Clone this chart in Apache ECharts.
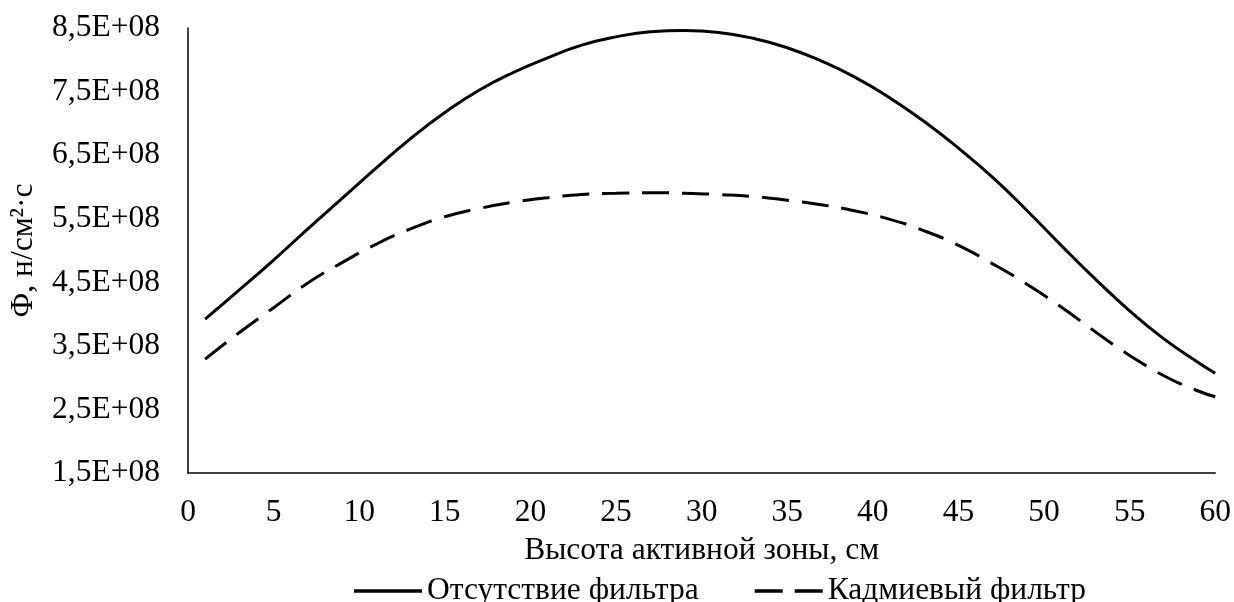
<!DOCTYPE html>
<html>
<head>
<meta charset="utf-8">
<script src="https://cdn.jsdelivr.net/npm/echarts@6/dist/echarts.min.js"></script>
<style>
html,body{margin:0;padding:0;background:#fff;}
#chart{width:1234px;height:602px;}
</style>
</head>
<body>
<div id="chart"></div>
<script>
// Height of active zone, cm
const heights = [1, 3, 5, 7, 9, 11, 13, 15, 17, 19, 21, 23, 25, 27, 29, 31, 33, 35, 37, 39, 41, 43, 45, 47, 49, 51, 53, 55, 57, 59, 60];
// Flux, n/cm2*s
const noFilter = [3.92e8, 4.38e8, 4.85e8, 5.34e8, 5.82e8, 6.30e8, 6.76e8, 7.17e8, 7.52e8, 7.80e8, 8.03e8, 8.23e8, 8.36e8, 8.44e8, 8.46e8, 8.43e8, 8.34e8, 8.19e8, 7.98e8, 7.72e8, 7.40e8, 7.03e8, 6.61e8, 6.15e8, 5.63e8, 5.08e8, 4.55e8, 4.05e8, 3.61e8, 3.24e8, 3.07e8];
const cadmiumFilter = [3.29e8, 3.71e8, 4.10e8, 4.49e8, 4.81e8, 5.10e8, 5.34e8, 5.53e8, 5.66e8, 5.76e8, 5.83e8, 5.88e8, 5.90e8, 5.91e8, 5.90e8, 5.88e8, 5.85e8, 5.79e8, 5.72e8, 5.62e8, 5.49e8, 5.31e8, 5.08e8, 4.79e8, 4.47e8, 4.11e8, 3.72e8, 3.35e8, 3.03e8, 2.79e8, 2.70e8];
const seriesNames = ['Отсутствие фильтра', 'Кадмиевый фильтр'];
const xTitle = 'Высота активной зоны, см';
const yTitle = 'Ф, н/см²·с';
const yTickValues = [1.5e8, 2.5e8, 3.5e8, 4.5e8, 5.5e8, 6.5e8, 7.5e8, 8.5e8];

const FONT = 'Liberation Serif';
const FS = 31.5;
const chart = echarts.init(document.getElementById('chart'));
function fmtY(v) {
  for (const t of yTickValues) {
    if (Math.abs(v - t) < 1) return (t / 1e8).toFixed(1).replace('.', ',') + 'E+08';
  }
  return '';
}
chart.setOption({
  animation: false,
  backgroundColor: '#fff',
  grid: {left: 186, right: 18, top: 28, bottom: 129},
  legend: {
    left: 349, top: 570,
    itemWidth: 68, itemHeight: 3.5, itemGap: 56,
    textStyle: {fontFamily: FONT, fontSize: FS, color: '#000'},
    data: [
      {name: seriesNames[0], icon: 'path://M0,0H68V3.5H0Z'},
      {name: seriesNames[1], icon: 'path://M0,0H28V3.5H0Z M40,0H68V3.5H40Z'}
    ]
  },
  xAxis: {
    type: 'value', min: 0, max: 60, interval: 5,
    name: xTitle, nameLocation: 'middle', nameGap: 62,
    nameTextStyle: {fontFamily: FONT, fontSize: FS, color: '#000'},
    axisLine: {lineStyle: {color: '#000', width: 1.5}},
    axisTick: {show: false},
    splitLine: {show: false},
    axisLabel: {fontFamily: FONT, fontSize: FS, color: '#000', margin: 24}
  },
  yAxis: {
    type: 'value', min: 1.5e8, max: 8.5e8, interval: 0.5e8,
    name: yTitle, nameLocation: 'middle', nameGap: 148,
    nameTextStyle: {fontFamily: FONT, fontSize: FS, color: '#000'},
    axisLine: {show: true, lineStyle: {color: '#000', width: 1.5}},
    axisTick: {show: false},
    splitLine: {show: false},
    axisLabel: {fontFamily: FONT, fontSize: FS, color: '#000', margin: 28, formatter: fmtY}
  },
  series: [
    {
      name: seriesNames[0], type: 'line', smooth: true, symbol: 'none',
      data: heights.map((h, i) => [h, noFilter[i]]),
      lineStyle: {color: '#000', width: 3, type: 'solid'},
      itemStyle: {color: '#000'}
    },
    {
      name: seriesNames[1], type: 'line', smooth: true, symbol: 'none',
      data: heights.map((h, i) => [h, cadmiumFilter[i]]),
      lineStyle: {color: '#000', width: 3, type: [27, 13]},
      itemStyle: {color: '#000'}
    }
  ]
});
</script>
</body>
</html>
